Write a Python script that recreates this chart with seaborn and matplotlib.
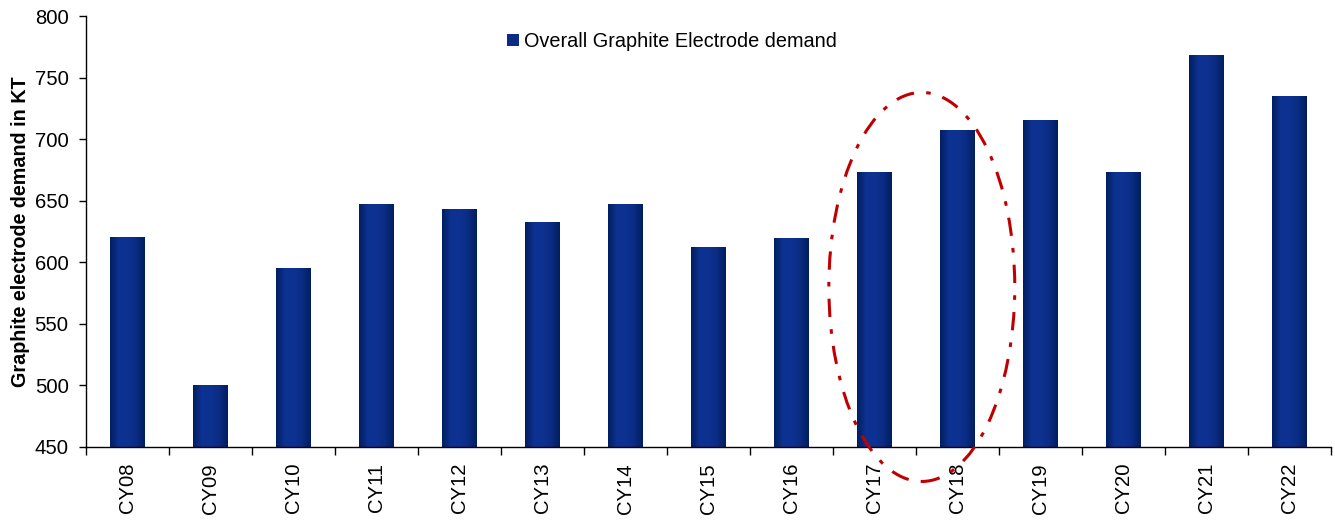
import numpy as np
import pandas as pd
import matplotlib
matplotlib.use("Agg")
import matplotlib.pyplot as plt
from matplotlib.colors import LinearSegmentedColormap
from matplotlib.patches import Ellipse
import seaborn as sns

years = ["CY08", "CY09", "CY10", "CY11", "CY12", "CY13", "CY14", "CY15",
         "CY16", "CY17", "CY18", "CY19", "CY20", "CY21", "CY22"]
demand = [620, 500, 595, 647, 643, 632, 647, 612, 619, 673, 707, 715, 673, 768, 735]
series_name = "Overall Graphite Electrode demand"
y_label = "Graphite electrode demand in KT"
y_ticks = [450, 500, 550, 600, 650, 700, 750, 800]
y_min, y_max = 450, 800

sns.set_theme(style="white")
plt.rcParams["font.family"] = ["Liberation Sans", "DejaVu Sans"]
plt.rcParams["axes.axisbelow"] = False

df = pd.DataFrame({"year": years, "demand": demand, "series": series_name})

fig = plt.figure(figsize=(13.35, 5.2), dpi=100)
ax = fig.add_axes([0.0644, 0.1404, 0.9326, 0.8286])

sns.barplot(data=df, x="year", y="demand", hue="series", palette=["#0B2C84"],
            width=0.41, ax=ax, saturation=1, linewidth=0)

# horizontal shading across each bar: dark edges, lighter middle
shade = LinearSegmentedColormap.from_list(
    "bar_shade", ["#001E5E", "#0D3190", "#0E3292", "#0A2C82", "#001E5E"])
grad = np.linspace(0, 1, 256).reshape(1, -1)
for p in list(ax.patches):
    x0, w, h = p.get_x(), p.get_width(), p.get_height()
    if w <= 0 or h <= y_min:
        continue
    ax.imshow(grad, cmap=shade, aspect="auto",
              extent=[x0, x0 + w, y_min, h], zorder=p.get_zorder() + 0.1,
              interpolation="bicubic")

ax.set_xlim(-0.5, len(years) - 0.5)
ax.set_ylim(y_min, y_max)
ax.set_yticks(y_ticks)
ax.set_yticklabels([str(t) for t in y_ticks], fontsize=14.6)

# category labels at centres, tick marks at category boundaries
ax.set_xticks(np.arange(len(years)))
ax.set_xticklabels(years, rotation=90, fontsize=14.6)
ax.set_xticks(np.arange(len(years) + 1) - 0.5, minor=True)
ax.tick_params(axis="x", which="major", bottom=True, length=0, pad=11.5)
ax.tick_params(axis="x", which="minor", bottom=True, length=6, width=1,
               color="black", direction="out")
ax.tick_params(axis="y", which="major", left=True, length=5, width=1,
               color="black", direction="out", pad=7.5)
for lbl in ax.get_xticklabels() + ax.get_yticklabels():
    lbl.set_color("black")

ax.set_xlabel("")
ax.set_ylabel(y_label, fontsize=14.2, fontweight="bold", labelpad=3, color="black")

sns.despine(ax=ax)
for s in ["left", "bottom"]:
    ax.spines[s].set_color("black")
    ax.spines[s].set_linewidth(1)

# highlight ring around CY17 and CY18
ring = Ellipse((9.57, 580), width=2.24, height=316, fill=False,
               edgecolor="#C00000", linewidth=2.2, linestyle=(0, (6, 4, 1.5, 4)),
               clip_on=False, zorder=5)
ax.add_patch(ring)

leg = ax.legend(loc="center left", bbox_to_anchor=(0.332, 0.941), frameon=False,
                fontsize=14.3, handlelength=0.6, handleheight=0.6,
                handletextpad=0.25, borderaxespad=0)
for h in leg.legend_handles:
    h.set_facecolor("#0B2C84")
for t in leg.get_texts():
    t.set_color("black")

fig.savefig("out.png", dpi=100)
